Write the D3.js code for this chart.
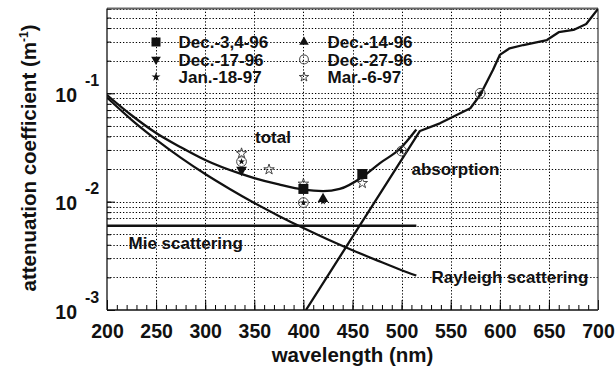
<!DOCTYPE html>
<html>
<head>
<meta charset="utf-8">
<script src="https://cdn.jsdelivr.net/npm/d3@7"></script>
<style>
  html, body { margin: 0; padding: 0; background: #fff; }
  svg { display: block; }
  text { font-family: "Liberation Sans", Arial, Helvetica, sans-serif; font-weight: bold; fill: #111; }
</style>
</head>
<body>
<svg id="chart" width="616" height="372"></svg>
<script>
// Wavelength ticks (nm) and attenuation decades (m^-1)
const xTicks = [200, 250, 300, 350, 400, 450, 500, 550, 600, 650, 700];
const yDecades = [1e-3, 1e-2, 1e-1];

// Model curves: [wavelength nm, attenuation m^-1]
const totalCurve = [[200,0.0964],[225,0.0627],[250,0.0430],[275,0.0318],[300,0.0242],[335,0.0182],[350,0.0165],[375,0.0144],[400,0.0129],[420,0.0125],[437,0.0131],[460,0.0169],[478,0.0227],[498,0.0306],[515,0.0464]];
const rayleigh = [[200,0.0912],[225,0.0569],[250,0.0374],[275,0.0255],[300,0.0180],[325,0.0131],[350,0.00972],[375,0.00738],[400,0.0057],[425,0.00447],[450,0.00356],[475,0.00287],[500,0.00233],[515,0.00208]];
const mie = [[200,0.0060],[515,0.0060]];
const absorption = [[402.6,0.0010],[518.7,0.0449],[539,0.0528],[570,0.0727],[580,0.0964],[593,0.164],[600,0.226],[610,0.260],[624,0.279],[648,0.310],[660,0.366],[675,0.384],[688,0.436],[700,0.600]];

// Measured points, one array per night
const dec3_4_96 = [[400,0.0131],[460,0.0180]];
const dec14_96 = [[420,0.0106]];
const dec17_96 = [[337,0.0196]];
const dec27_96 = [[337,0.0234],[400,0.0098],[500,0.0293],[580,0.100]];
const jan18_97 = [[337,0.0234],[400,0.0098],[420,0.0100],[500,0.0293],[580,0.100]];
const mar6_97 = [[337,0.0279],[365,0.0198],[400,0.0146],[460,0.0148]];

const legendNames = ["Dec.-3,4-96","Dec.-14-96","Dec.-17-96","Dec.-27-96","Jan.-18-97","Mar.-6-97"];

const svg = d3.select("#chart");
const x0 = 107, x1 = 598, y0 = 310, y1 = 8.5;
const x = d3.scaleLinear().domain([200, 700]).range([x0, x1]);
const y = d3.scaleLog().domain([0.001, 0.606]).range([y0, y1]);

svg.append("rect").attr("width", 616).attr("height", 372).attr("fill", "#fff");

// Dotted grid: every 1..9 multiple of each decade, every 50 nm
const minorY = [];
for (const d of yDecades) for (let m = 1; m <= 9; m++) {
  const v = m * d;
  if (v > 0.001 && v < 0.606) minorY.push(v);
}
const grid = svg.append("g").attr("class", "grid");
grid.selectAll("line.h").data(minorY).join("line")
  .attr("class", "h")
  .attr("x1", x0).attr("x2", x1)
  .attr("y1", d => Math.round(y(d)) + 0.5).attr("y2", d => Math.round(y(d)) + 0.5)
  .attr("stroke", "#000").attr("stroke-width", 1).attr("stroke-dasharray", "1.3,1.9");
grid.selectAll("line.v").data(xTicks.slice(1, -1)).join("line")
  .attr("class", "v")
  .attr("y1", y1).attr("y2", y0)
  .attr("x1", d => Math.round(x(d)) + 0.5).attr("x2", d => Math.round(x(d)) + 0.5)
  .attr("stroke", "#000").attr("stroke-width", 1).attr("stroke-dasharray", "1.3,1.9");

// Axes with inward ticks
const minorX = d3.range(200, 701, 10);
svg.append("g").attr("transform", `translate(0,${y0})`)
  .call(d3.axisBottom(x).tickValues(minorX).tickSize(-5).tickSizeOuter(0).tickFormat(""))
  .call(g => g.select(".domain").remove());
const xAxis = svg.append("g").attr("transform", `translate(0,${y0})`)
  .call(d3.axisBottom(x).tickValues(xTicks).tickSize(-10).tickSizeOuter(0).tickPadding(14.5).tickFormat(d3.format("d")));
xAxis.select(".domain").remove();
xAxis.selectAll("text").attr("font-size", "19.5px").attr("fill", "#111")
  .style("font-family", '"Liberation Sans", Arial, sans-serif').style("font-weight", "bold");

svg.append("g").attr("transform", `translate(${x0},0)`)
  .call(d3.axisLeft(y).tickValues(minorY).tickSize(-4).tickSizeOuter(0).tickFormat(""))
  .call(g => g.select(".domain").remove());
const yAxis = svg.append("g").attr("transform", `translate(${x0},0)`)
  .call(d3.axisLeft(y).tickValues(yDecades).tickSize(-8).tickSizeOuter(0).tickFormat(""));
yAxis.select(".domain").remove();
yAxis.selectAll(".tick").each(function(d) {
  const g = d3.select(this);
  g.append("text").attr("x", -30).attr("y", 8).attr("text-anchor", "end")
    .attr("font-size", "19.5px").text("10");
  g.append("text").attr("x", -22).attr("y", -8).attr("text-anchor", "start")
    .attr("font-size", "16px").text(String(Math.round(Math.log10(d))));
});

// Frame
svg.append("line").attr("x1", x0).attr("x2", x1).attr("y1", y1).attr("y2", y1).attr("stroke", "#666").attr("stroke-width", 2);
svg.append("line").attr("x1", x0).attr("x2", x1).attr("y1", y0).attr("y2", y0).attr("stroke", "#111").attr("stroke-width", 1.3);
svg.append("line").attr("x1", x0).attr("x2", x0).attr("y1", y1).attr("y2", y0).attr("stroke", "#111").attr("stroke-width", 1.3);
svg.append("line").attr("x1", x1).attr("x2", x1).attr("y1", y1).attr("y2", y0).attr("stroke", "#333").attr("stroke-width", 1.2);

// Curves
svg.append("clipPath").attr("id", "plotClip").append("rect")
  .attr("x", x0).attr("y", y1).attr("width", x1 - x0).attr("height", y0 - y1);
const curves = svg.append("g").attr("clip-path", "url(#plotClip)").attr("fill", "none").attr("stroke", "#111");
const smooth = d3.line().x(d => x(d[0])).y(d => y(d[1])).curve(d3.curveMonotoneX);
const straight = d3.line().x(d => x(d[0])).y(d => y(d[1]));
curves.append("path").attr("d", smooth(totalCurve)).attr("stroke-width", 2.3);
curves.append("path").attr("d", smooth(rayleigh)).attr("stroke-width", 2.2);
curves.append("path").attr("d", straight(mie)).attr("stroke-width", 2.6);
curves.append("path").attr("d", straight(absorption)).attr("stroke-width", 2.3).attr("stroke-linejoin", "round");

// Marker styles per series
const sym = d3.symbol();
const styles = {
  sq:    { path: sym.type(d3.symbolSquare).size(100)(), fill: "#111", stroke: "none", sw: 0 },
  triU:  { path: sym.type(d3.symbolTriangle).size(50)(), fill: "#111", stroke: "none", sw: 0 },
  triD:  { path: sym.type(d3.symbolTriangle).size(50)(), fill: "#111", stroke: "none", sw: 0, rot: 180 },
  circ:  { path: sym.type(d3.symbolCircle).size(75)(), fill: "none", stroke: "#444", sw: 1 },
  star:  { path: sym.type(d3.symbolStar).size(15)(), fill: "#111", stroke: "none", sw: 0 },
  ostar: { path: sym.type(d3.symbolStar).size(34)(), fill: "none", stroke: "#333", sw: 0.9 }
};
function drawMarks(data, st) {
  svg.append("g").selectAll("path").data(data).join("path")
    .attr("d", st.path)
    .attr("transform", d => `translate(${x(d[0])},${y(d[1])})` + (st.rot ? ` rotate(${st.rot})` : ""))
    .attr("fill", st.fill).attr("stroke", st.stroke).attr("stroke-width", st.sw);
}
drawMarks(mar6_97, styles.ostar);
drawMarks(dec17_96, styles.triD);
drawMarks(dec27_96, styles.circ);
drawMarks(jan18_97, styles.star);
drawMarks(dec14_96, styles.triU);
drawMarks(dec3_4_96, styles.sq);

// Legend
const legendKeys = ["sq", "triU", "triD", "circ", "star", "ostar"];
const lg = svg.append("g");
legendNames.forEach((name, i) => {
  const col = i % 2, row = Math.floor(i / 2);
  const mx = col === 0 ? 156 : 304;
  const tx = col === 0 ? 178.5 : 327.5;
  const by = 48 + row * 17.5;
  const st = styles[legendKeys[i]];
  const scale = legendKeys[i] === "star" ? 1.3 : 0.9;
  lg.append("path").attr("d", st.path)
    .attr("transform", `translate(${mx},${by - 6}) scale(${scale})` + (st.rot ? ` rotate(${st.rot})` : ""))
    .attr("fill", st.fill).attr("stroke", st.stroke).attr("stroke-width", st.sw / scale);
  lg.append("text").attr("x", tx).attr("y", by).attr("font-size", "17px").text(name);
});

// Curve annotations
const notes = [
  { t: "total", x: 255, y: 142.5 },
  { t: "absorption", x: 411.5, y: 175 },
  { t: "Mie scattering", x: 128.5, y: 249 },
  { t: "Rayleigh scattering", x: 431.5, y: 283 }
];
svg.append("g").selectAll("text").data(notes).join("text")
  .attr("x", d => d.x).attr("y", d => d.y).attr("font-size", "17px").text(d => d.t);

// Axis titles
svg.append("text").attr("x", (x0 + x1) / 2).attr("y", 362).attr("text-anchor", "middle")
  .attr("font-size", "20.5px").text("wavelength (nm)");
const yt = svg.append("text").attr("transform", "translate(36,158) rotate(-90)")
  .attr("text-anchor", "middle").attr("font-size", "20.5px");
yt.append("tspan").text("attenuation coefficient (m");
yt.append("tspan").attr("font-size", "12px").attr("dy", "-8").text("-1");
yt.append("tspan").attr("dy", "8").text(")");
</script>
</body>
</html>
